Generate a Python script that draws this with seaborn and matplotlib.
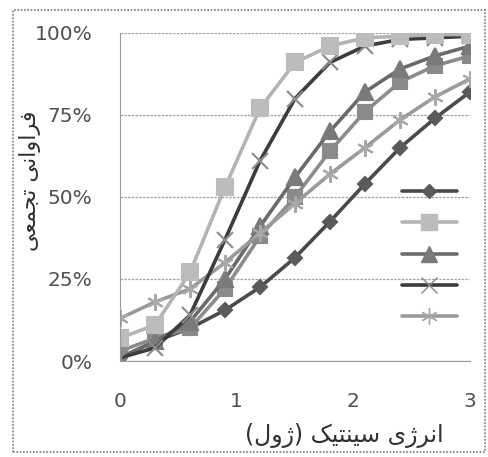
import numpy as np
import pandas as pd
import matplotlib
matplotlib.use("Agg")
import matplotlib.pyplot as plt
import matplotlib.ticker as mtick
from matplotlib.lines import Line2D
from matplotlib.patches import Rectangle
import seaborn as sns

# Datos
energia = [0.0, 0.3, 0.6, 0.9, 1.2, 1.5, 1.8, 2.1, 2.4, 2.7, 3.0]
serie_rombo = [1, 6, 10, 15.5, 22.5, 31.5, 42.5, 54, 65, 74, 82]
serie_cuadro = [7, 11, 27, 53, 77, 91, 96, 98.5, 99, 99.5, 99.5]
serie_triangulo = [1, 6, 12, 25, 41, 56, 70, 82, 89, 93, 96]
serie_cuadro_b = [3, 7, 10, 22, 38, 50, 64, 76, 85, 90, 93]
serie_x = [1, 4, 14, 37, 61, 80, 91, 96, 98, 98.5, 99]
serie_estrella = [13, 18, 22, 30, 39, 48, 57, 65, 73.5, 80.5, 86]

x_ticks = [0, 1, 2, 3]
y_ticks = [0, 25, 50, 75, 100]
xlabel_txt = "انرژی سینتیک (ژول)"
ylabel_txt = "فراوانی تجمعی"

# formas de presentacion: aislada, final, inicial, media
FORMAS = {
    'ا': ('\uFE8D', '\uFE8E'), 'ر': ('\uFEAD', '\uFEAE'), 'ژ': ('\uFB8A', '\uFB8B'),
    'و': ('\uFEED', '\uFEEE'),
    'ن': ('\uFEE5', '\uFEE6', '\uFEE7', '\uFEE8'), 'ی': ('\uFBFC', '\uFBFD', '\uFBFE', '\uFBFF'),
    'س': ('\uFEB1', '\uFEB2', '\uFEB3', '\uFEB4'), 'ت': ('\uFE95', '\uFE96', '\uFE97', '\uFE98'),
    'ک': ('\uFB8E', '\uFB8F', '\uFB90', '\uFB91'), 'ل': ('\uFEDD', '\uFEDE', '\uFEDF', '\uFEE0'),
    'ف': ('\uFED1', '\uFED2', '\uFED3', '\uFED4'), 'ج': ('\uFE9D', '\uFE9E', '\uFE9F', '\uFEA0'),
    'م': ('\uFEE1', '\uFEE2', '\uFEE3', '\uFEE4'), 'ع': ('\uFEC9', '\uFECA', '\uFECB', '\uFECC'),
}


def rtl(texto):
    salida = []
    for i, c in enumerate(texto):
        if c not in FORMAS:
            salida.append(c)
            continue
        prev = texto[i - 1] if i > 0 else ''
        nxt = texto[i + 1] if i + 1 < len(texto) else ''
        une_prev = prev in FORMAS and len(FORMAS[prev]) == 4
        une_sig = len(FORMAS[c]) == 4 and nxt in FORMAS
        f = FORMAS[c]
        if une_prev and une_sig:
            salida.append(f[3])
        elif une_prev:
            salida.append(f[1])
        elif une_sig:
            salida.append(f[2])
        else:
            salida.append(f[0])
    vis = ''.join(reversed(salida))
    return vis.translate(str.maketrans('()', ')('))


series = [
    ('rombo', serie_rombo, 'D', '#4a4a4a', '#5a5a5a', 7),
    ('cuadro_b', serie_cuadro_b, 's', '#8c8c8c', '#8a8a8a', 10),
    ('triangulo', serie_triangulo, '^', '#6a6a6a', '#7a7a7a', 11),
    ('estrella', serie_estrella, (6, 2, 0), '#9a9a9a', '#a8a8a8', 12),
    ('x', serie_x, 'x', '#3c3c3c', '#8a8a8a', 12),
    ('cuadro', serie_cuadro, 's', '#b4b4b4', '#bcbcbc', 11),
]

filas = []
for nombre, vals, *_ in series:
    for e, v in zip(energia, vals):
        filas.append({'serie': nombre, 'energia': e, 'valor': v})
df = pd.DataFrame(filas)

sns.set_style('white')
plt.rcParams['font.family'] = ['DejaVu Sans']

fig = plt.figure(figsize=(4.88, 4.57), dpi=100)
ax = fig.add_axes([0.246, 0.210, 0.717, 0.718])

for nombre, vals, mk, col_l, col_m, ms in series:
    sub = df[df['serie'] == nombre]
    sns.lineplot(data=sub, x='energia', y='valor', ax=ax, color=col_l, linewidth=2.6,
                 marker=mk, markersize=ms, markerfacecolor=col_m, markeredgecolor=col_m,
                 markeredgewidth=1.5, legend=False)

ax.set_xlim(0, 3)
ax.set_ylim(0, 100)
ax.set_xticks(x_ticks)
ax.set_yticks(y_ticks)
ax.yaxis.set_major_formatter(mtick.PercentFormatter(decimals=0))
ax.yaxis.grid(True, linestyle=(0, (2, 1)), color='#a0a0a0', linewidth=0.9)
ax.set_axisbelow(True)
for lado in ['top', 'right']:
    ax.spines[lado].set_visible(False)
ax.spines['left'].set_color('#9a9a9a')
ax.spines['bottom'].set_color('#9a9a9a')
ax.tick_params(axis='both', labelsize=14.5, colors='#9a9a9a', labelcolor='#505050',
               length=6, width=0.9, direction='out')
ax.tick_params(axis='x', pad=16)
ax.tick_params(axis='y', pad=14)

ax.set_xlabel(rtl(xlabel_txt), fontsize=17, color='#303030')
ax.xaxis.set_label_coords(0.64, -0.19)
ax.set_ylabel(rtl(ylabel_txt), fontsize=16, color='#303030')
ax.yaxis.set_label_coords(-0.225, 0.55)

# leyenda sin texto (solo simbolos)
handles = {}
for nombre, vals, mk, col_l, col_m, ms in series:
    handles[nombre] = Line2D([], [], color=col_l, linewidth=2.6, marker=mk, markersize=ms,
                             markerfacecolor=col_m, markeredgecolor=col_m)
orden = ['rombo', 'cuadro', 'triangulo', 'x', 'estrella']
hs = [handles[n] for n in orden]
leg = ax.legend(hs, [' '] * 5, loc='center left', bbox_to_anchor=(0.805, 0.325), frameon=False,
                handlelength=4.0, handletextpad=0, borderpad=0, borderaxespad=0,
                labelspacing=1.25, fontsize=10)

fig.patches.append(Rectangle((13 / 488, 5 / 457), 472 / 488, 442 / 457, transform=fig.transFigure,
                             fill=False, edgecolor='#7a7a7a', linestyle=(0, (1, 1)), linewidth=1.2))

fig.savefig('out.png', dpi=100)
